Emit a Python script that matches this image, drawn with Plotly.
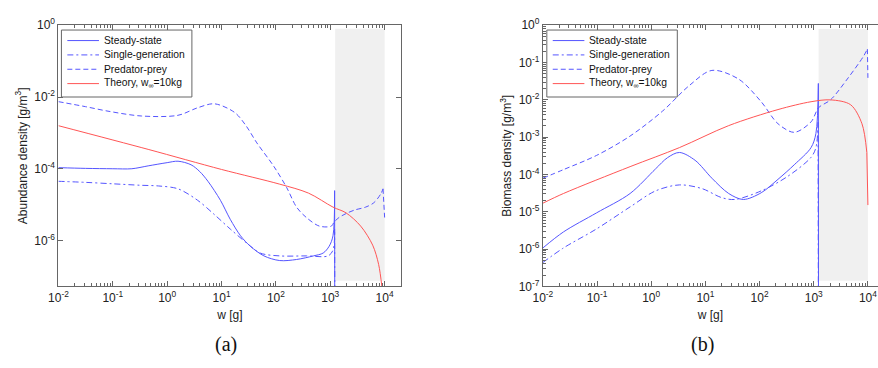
import plotly.graph_objects as go

# ---------------- data (log10 of w [g] and log10 of density) ----------------
# Panel (a): abundance density
ss_a_lw = [-2, -1.5, -1.0, -0.65, -0.35, 0.0, 0.2, 0.44, 0.6, 0.75, 0.98, 1.16, 1.35, 1.53, 1.78, 2.07, 2.38, 2.69, 2.87, 2.98, 3.05, 3.08, 3.085]
ss_a_lv = [-3.97, -3.99, -4.0, -4.0, -3.92, -3.83, -3.79, -3.89, -4.08, -4.35, -4.88, -5.41, -5.87, -6.16, -6.43, -6.56, -6.53, -6.43, -6.35, -6.16, -5.87, -4.61, -12]

sg_a_lw = [-2, -1.5, -1.0, -0.5, -0.16, 0.2, 0.56, 0.87, 1.16, 1.47, 1.71, 2.07, 2.56, 2.96, 3.05, 3.08, 3.09]
sg_a_lv = [-4.35, -4.38, -4.42, -4.46, -4.48, -4.56, -4.88, -5.28, -5.68, -6.08, -6.35, -6.43, -6.43, -6.43, -6.27, -5.68, -12]

pp_a_lw = [-2, -1.5, -1.07, -0.47, 0.2, 0.56, 0.87, 1.24, 1.45, 1.65, 1.96, 2.2, 2.38, 2.56, 2.8, 3.02, 3.07, 3.16, 3.29, 3.45, 3.65, 3.8, 3.93, 3.97, 4.0]
pp_a_lv = [-2.13, -2.27, -2.4, -2.53, -2.51, -2.3, -2.19, -2.43, -2.8, -3.28, -3.93, -4.53, -5.07, -5.36, -5.6, -5.6, -5.49, -5.36, -5.25, -5.15, -5.07, -4.95, -4.7, -4.56, -5.36]

th_a_lw = [-2, -0.35, 1.0, 2.07, 2.6, 3.05, 3.29, 3.56, 3.78, 3.89, 3.95, 4.0]
th_a_lv = [-2.8, -3.46, -4.02, -4.43, -4.68, -5.07, -5.23, -5.6, -6.13, -6.67, -7.3, -8.8]

# Panel (b): biomass density
ss_b_lw = [-2, -1.62, -1.01, -0.39, 0.08, 0.3, 0.52, 0.81, 1.12, 1.43, 1.7, 2.03, 2.34, 2.64, 2.95, 3.04, 3.085, 3.09]
ss_b_lv = [-5.97, -5.54, -5.03, -4.51, -3.85, -3.55, -3.41, -3.62, -4.1, -4.51, -4.67, -4.49, -4.13, -3.74, -3.28, -2.9, -1.56, -12]

sg_b_lw = [-2, -1.62, -1.01, -0.39, 0.08, 0.52, 0.94, 1.3, 1.54, 2.03, 2.52, 2.95, 3.04, 3.08, 3.09]
sg_b_lv = [-6.36, -5.97, -5.46, -4.87, -4.44, -4.28, -4.38, -4.62, -4.67, -4.44, -4.05, -3.54, -3.28, -2.6, -12]

pp_b_lw = [-2, -1.62, -1.01, -0.39, 0.21, 0.7, 1.12, 1.61, 2.03, 2.34, 2.64, 2.95, 3.09, 3.31, 3.62, 3.91, 3.99, 4.0]
pp_b_lv = [-4.1, -3.87, -3.49, -2.97, -2.3, -1.62, -1.21, -1.44, -2.05, -2.64, -2.87, -2.59, -2.21, -2.0, -1.44, -0.85, -0.64, -1.41]

th_b_lw = [-2, -1.62, -0.39, 0.52, 1.43, 2.34, 2.95, 3.31, 3.68, 3.89, 3.98, 4.0]
th_b_lv = [-4.77, -4.51, -3.79, -3.28, -2.69, -2.26, -2.05, -2.0, -2.13, -2.64, -3.41, -4.82]

# Shaded region (w range) and its vertical extent per panel (log10 density)
shade_w = [1230, 10000]
shade_a_lv = [-7.12, -0.1]
shade_b_lv = [-6.85, -0.1]

names = ["Steady-state", "Single-generation", "Predator-prey", "Theory, w<sub>∞</sub>=10kg"]
x_ticks = [1e-2, 1e-1, 1e0, 1e1, 1e2, 1e3, 1e4]
x_ticktext = ["10<sup>-2</sup>", "10<sup>-1</sup>", "10<sup>0</sup>", "10<sup>1</sup>",
              "10<sup>2</sup>", "10<sup>3</sup>", "10<sup>4</sup>"]
ya_ticks = [1e0, 1e-2, 1e-4, 1e-6]
ya_ticktext = ["10<sup>0</sup>", "10<sup>-2</sup>", "10<sup>-4</sup>", "10<sup>-6</sup>"]
yb_ticks = [1e0, 1e-1, 1e-2, 1e-3, 1e-4, 1e-5, 1e-6, 1e-7]
yb_ticktext = ["10<sup>0</sup>", "10<sup>-1</sup>", "10<sup>-2</sup>", "10<sup>-3</sup>",
               "10<sup>-4</sup>", "10<sup>-5</sup>", "10<sup>-6</sup>", "10<sup>-7</sup>"]

# ---------------- figure ----------------
W, H = 878, 368
BLUE = "rgb(85,85,255)"
RED = "rgb(255,85,85)"
FONT = "Liberation Sans, Arial, sans-serif"
AX = "#666666"
TXT = "#222222"
DASH = "5px,3px"
DASHDOT = "6px,3px,2px,3px"
styles = [(BLUE, "solid"), (BLUE, DASHDOT), (BLUE, DASH), (RED, "solid")]

def p10(a):
    return [10 ** v for v in a]

fig = go.Figure()

def shade(xa, ya, lv):
    fig.add_trace(go.Scatter(
        x=[shade_w[0], shade_w[1], shade_w[1], shade_w[0], shade_w[0]],
        y=p10([lv[0], lv[0], lv[1], lv[1], lv[0]]),
        fill="toself", fillcolor="#f0f0f0", mode="lines", line=dict(width=0),
        showlegend=False, hoverinfo="skip", xaxis=xa, yaxis=ya))

def curve(lw, lv, name, style, xa, ya, drop_last=True):
    color, dash = style
    # smooth body through the read points; the final drop (off-scale value) is straight
    n = len(lw) - 1 if drop_last else len(lw)
    fig.add_trace(go.Scatter(
        x=p10(lw[:n]), y=p10(lv[:n]), mode="lines", name=name, showlegend=False,
        line=dict(color=color, width=1, dash=dash, shape="spline", smoothing=0.9),
        xaxis=xa, yaxis=ya))
    if drop_last:
        fig.add_trace(go.Scatter(
            x=p10(lw[n - 1:]), y=p10(lv[n - 1:]), mode="lines", showlegend=False,
            line=dict(color=color, width=1, dash=dash), hoverinfo="skip",
            xaxis=xa, yaxis=ya))

shade("x", "y", shade_a_lv)
shade("x2", "y2", shade_b_lv)

curve(ss_a_lw, ss_a_lv, names[0], styles[0], "x", "y")
curve(sg_a_lw, sg_a_lv, names[1], styles[1], "x", "y")
curve(pp_a_lw, pp_a_lv, names[2], styles[2], "x", "y")
curve(th_a_lw, th_a_lv, names[3], styles[3], "x", "y")

curve(ss_b_lw, ss_b_lv, names[0], styles[0], "x2", "y2")
curve(sg_b_lw, sg_b_lv, names[1], styles[1], "x2", "y2")
curve(pp_b_lw, pp_b_lv, names[2], styles[2], "x2", "y2")
curve(th_b_lw, th_b_lv, names[3], styles[3], "x2", "y2")

# ---- compact MATLAB-style legend boxes (paper coordinates) ----
shapes = []
annotations = []
def legend_box(left_px):
    top, bottom, right = 22, 92, left_px + 132
    shapes.append(dict(type="rect", xref="paper", yref="paper",
                       x0=left_px / W, x1=right / W, y0=1 - bottom / H, y1=1 - top / H,
                       line=dict(color=AX, width=1), fillcolor="white", layer="above"))
    for i, (name, (color, dash)) in enumerate(zip(names, styles)):
        yy = 1 - (33 + 15 * i) / H
        shapes.append(dict(type="line", xref="paper", yref="paper",
                           x0=(left_px + 6) / W, x1=(left_px + 38) / W, y0=yy, y1=yy,
                           line=dict(color=color, width=1, dash=dash), layer="above"))
        annotations.append(dict(text=name, x=(left_px + 41) / W, y=yy, xref="paper", yref="paper",
                                xanchor="left", yanchor="middle", showarrow=False,
                                font=dict(size=10.3, color="#111", family=FONT)))
legend_box(52)
legend_box(543)

for txt, xc in (("(a)", 218), ("(b)", 700)):
    annotations.append(dict(text=txt, x=xc / W, y=1 - 351 / H, xref="paper", yref="paper",
                            xanchor="center", yanchor="middle", showarrow=False,
                            font=dict(size=20, color="#111",
                                      family="Liberation Serif, DejaVu Serif, serif")))

minor_x = [k * 10 ** d for d in range(-2, 5) for k in range(2, 10)]
minor_yb = [k * 10 ** d for d in range(-7, 0) for k in range(2, 10)]

def xaxis(domain, rng):
    return dict(type="log", domain=domain, range=rng, tickvals=x_ticks, ticktext=x_ticktext,
                ticks="inside", ticklen=5, tickcolor=AX, showline=True, linecolor=AX,
                linewidth=1, mirror="ticks", showgrid=False, zeroline=False,
                tickfont=dict(size=12, color=TXT, family=FONT),
                minor=dict(tickmode="array", tickvals=minor_x, ticks="inside", ticklen=3,
                           tickcolor=AX, showgrid=False),
                title=dict(text="w [g]", font=dict(size=12, color=TXT, family=FONT), standoff=6))

ydom = [1 - 290 / H, 1 - 17 / H]
fig.update_layout(
    width=W, height=H, autosize=False,
    margin=dict(l=0, r=0, t=0, b=0),
    paper_bgcolor="white", plot_bgcolor="white",
    showlegend=False,
    font=dict(family=FONT, size=12, color=TXT),
    xaxis=xaxis([49 / W, 396 / W], [-2, 4.31]),
    xaxis2=xaxis([539 / W, 1.0], [-2, 4.186]),
    yaxis=dict(type="log", domain=ydom, range=[-7.28, 0], tickvals=ya_ticks, ticktext=ya_ticktext,
               ticks="inside", ticklen=5, tickcolor=AX, showline=True, linecolor=AX, linewidth=1,
               mirror="ticks", showgrid=False, zeroline=False, anchor="x",
               tickfont=dict(size=12, color=TXT, family=FONT),
               title=dict(text="Abundance density [g/m<sup>3</sup>]",
                          font=dict(size=12, color=TXT, family=FONT), standoff=4)),
    yaxis2=dict(type="log", domain=ydom, range=[-7, 0], tickvals=yb_ticks, ticktext=yb_ticktext,
                ticks="inside", ticklen=5, tickcolor=AX, showline=True, linecolor=AX, linewidth=1,
                mirror=False, showgrid=False, zeroline=False, anchor="x2",
                tickfont=dict(size=12, color=TXT, family=FONT),
                minor=dict(tickmode="array", tickvals=minor_yb, ticks="inside", ticklen=3,
                           tickcolor=AX, showgrid=False),
                title=dict(text="Biomass density [g/m<sup>3</sup>]",
                           font=dict(size=12, color=TXT, family=FONT), standoff=4)),
    shapes=shapes,
    annotations=annotations,
)

fig.write_html("out.html")
